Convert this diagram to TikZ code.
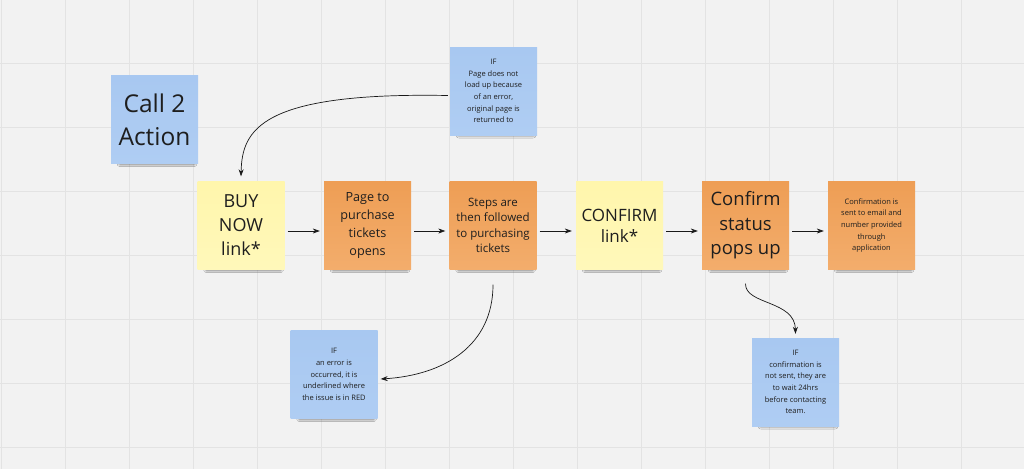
\documentclass[tikz,border=0pt]{standalone}
\usepackage{fontspec}
\setmainfont{Open Sans}
\usetikzlibrary{shadows.blur,arrows.meta}

\definecolor{boardbg}{HTML}{F2F2F2}
\definecolor{gridline}{HTML}{E3E3E3}
\definecolor{bluetop}{HTML}{A8C8F1}
\definecolor{bluebot}{HTML}{AFCDF3}
\definecolor{yellowtop}{HTML}{FFF6AC}
\definecolor{yellowbot}{HTML}{FFF8BA}
\definecolor{orangetop}{HTML}{EE9E55}
\definecolor{orangebot}{HTML}{F3AD6C}
\definecolor{inktext}{HTML}{1E1E1E}

\begin{document}
\begin{tikzpicture}[x=1pt,y=-1pt,
    note/.style={minimum width=87pt,minimum height=88pt,inner sep=0pt,align=center,text=inktext,
        blur shadow={shadow xshift=3pt,shadow yshift=-8pt,shadow scale=0.85,shadow opacity=80,shadow blur radius=3.5pt}},
    bluenote/.style={note,top color=bluetop,bottom color=bluebot},
    yellownote/.style={note,top color=yellowtop,bottom color=yellowbot},
    orangenote/.style={note,top color=orangetop,bottom color=orangebot},
    smalltext/.style={font=\fontsize{7.5}{11.7}\selectfont},
    flow/.style={-{Stealth[length=7pt,width=5pt]},line width=0.7pt,black!90}]

            \useasboundingbox (0,0) rectangle (1024,469);
            \fill[boardbg] (0,0) rectangle (1024,469);
            \foreach \x in {1,65,...,1025} {
                \draw[gridline,line width=0.8pt] (\x,0) -- (\x,469);
            }
            \foreach \y in {63,127,...,447} {
                \draw[gridline,line width=0.8pt] (0,\y) -- (1024,\y);
            }

            \node[bluenote,font=\fontsize{24.5}{33}\selectfont] (cta) at (154.5,119.5) {Call 2\\Action};
            \node[bluenote,smalltext] (ifload) at (493.5,91) {IF\\Page does not\\load up because\\of an error,\\original page is\\returned to};

            \node[yellownote,font=\fontsize{18}{24}\selectfont] (buy) at (241,225.5) {BUY\\NOW\\link*};
            \node[orangenote,font=\fontsize{12.6}{18}\selectfont] (page) at (367.5,225.5) {Page to\\purchase\\tickets\\opens};
            \node[orangenote,font=\fontsize{11.5}{15.3}\selectfont] (steps) at (493,225.5) {Steps are\\then followed\\to purchasing\\tickets};
            \node[yellownote,font=\fontsize{17}{21}\selectfont] (confirm) at (619.5,225.5) {CONFIRM\\link*};
            \node[orangenote,font=\fontsize{18.5}{24.5}\selectfont] (status) at (745.5,225.5) {Confirm\\status\\pops up};
            \node[orangenote,smalltext] (sent) at (871.5,225.5) {Confirmation is\\sent to email and\\number provided\\through\\application};

            \node[bluenote,smalltext] (iferror) at (334,374.5) {IF\\an error is\\occurred, it is\\underlined where\\the issue is in RED};
            \node[bluenote,smalltext] (ifsent) at (795.5,382) {IF\\confirmation is\\not sent, they are\\to wait 24hrs\\before contacting\\team.};

            \foreach \a/\b in {buy/page,page/steps,steps/confirm,confirm/status,status/sent} {
                \draw[flow] ([xshift=3pt,yshift=-5.5pt]\a.east) -- ([xshift=-4pt,yshift=-5.5pt]\b.west);
            }
            \draw[flow] ([xshift=-2pt,yshift=-4.5pt]ifload.west) .. controls (260,92) and (242,130) .. ([yshift=5pt]buy.north);
            \draw[flow] ([yshift=-15pt]steps.south) .. controls (493,345) and (445,375) .. ([xshift=3pt,yshift=-4.5pt]iferror.east);
            \draw[flow] ([yshift=-14pt]status.south) .. controls (745,305) and (795,300) .. ([yshift=4pt]ifsent.north);

        \end{tikzpicture}
\end{document}
